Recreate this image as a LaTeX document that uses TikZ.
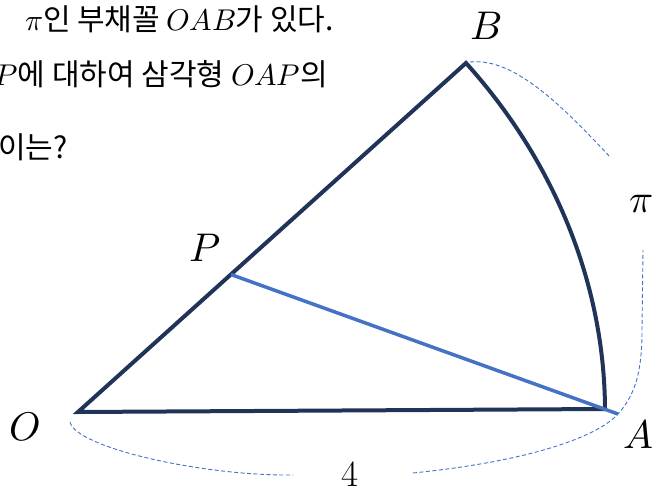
\documentclass[tikz,border=0pt]{standalone}
\usepackage{fontspec}
\usepackage{unicode-math}
\newfontfamily\krfont{Noto Sans CJK KR}
\usetikzlibrary{calc}
\definecolor{navy}{HTML}{1F3458}
\definecolor{lineblue}{HTML}{4472C4}

\begin{document}
\begin{tikzpicture}[
      x=1pt, y=-1pt,
      every node/.style={inner sep=0pt},
      lbl/.style={font=\fontsize{40}{48}\selectfont},
      txt/.style={font=\fontsize{30}{36}\selectfont\krfont, anchor=base east},
      edge/.style={draw=navy, line width=4pt, line join=miter},
      seg/.style={draw=lineblue, line width=3.5pt},
      brace/.style={draw=lineblue, line width=0.9pt, dash pattern=on 4pt off 2.5pt}
    ]
      \useasboundingbox (0,0) rectangle (666,494);
      \coordinate (O) at (78,412);
      \coordinate (A) at (605,409);
      \coordinate (B) at (466,63);
      \coordinate (P) at ($(O)!0.394!(B)$);
      \coordinate (tip) at (618,414);
      % sector and chord
      \draw[edge] (O) -- (B) .. controls (552,158.5) and (604.3,280.4) .. (A) -- cycle;
      \draw[seg] (P) -- (tip);
      % dashed braces
      \coordinate (arcTop) at (470,62);
      \coordinate (arcMid) at (610,157);
      \coordinate (arcLow) at (643,250);
      \coordinate (baseL) at (70,422);
      \coordinate (baseM) at (293,475);
      \coordinate (baseR) at (413,473);
      \draw[brace] (arcTop) .. controls (515,57) and (565,109) .. (arcMid);
      \draw[brace] (baseR) .. controls (540,460) and (600,434) .. (tip)
        .. controls (636,394) and (642,370) .. (642,330) -- (arcLow);
      \draw[brace] (baseL) .. controls (75,447) and (200,476) .. (baseM);
      % labels
      \node[lbl] (lO) at (25,427) {$O$};
      \node[lbl] (lA) at (638,434) {$A$};
      \node[lbl] (lB) at (486,26) {$B$};
      \node[lbl] (lP) at (205,248) {$P$};
      \node[lbl] (lpi) at (641,204) {$\pi$};
      \node[lbl, font=\fontsize{37}{44}\selectfont] (lfour) at (350,474) {4};
      % question text
      \node[txt] (q1) at (334,31) {$\pi$인 부채꼴 $OAB$가 있다.};
      \node[txt] (q2) at (328,86) {$P$에 대하여 삼각형 $OAP$의};
      \node[txt] (q3) at (68,159) {이는?};
    \end{tikzpicture}
\end{document}
